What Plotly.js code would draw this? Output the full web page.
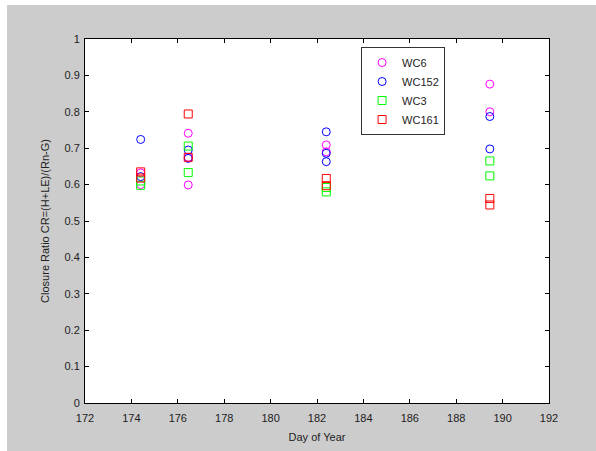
<!DOCTYPE html>
<html>
<head>
<meta charset="utf-8">
<script src="https://cdn.plot.ly/plotly-3.0.1.min.js"></script>
<style>
html,body{margin:0;padding:0;background:#ffffff;}
#chart{position:absolute;left:7px;top:5px;width:589px;height:446px;}
</style>
</head>
<body>
<div id="chart"></div>
<script>
// Data
const wc6Days   = [174.4, 174.4, 176.45, 176.45, 176.45, 182.4, 182.4, 189.45, 189.45];
const wc6Vals   = [0.632, 0.600, 0.741, 0.675, 0.599, 0.709, 0.690, 0.876, 0.800];
const wc152Days = [174.4, 174.4, 176.45, 176.45, 182.4, 182.4, 182.4, 189.45, 189.45];
const wc152Vals = [0.724, 0.622, 0.695, 0.672, 0.745, 0.686, 0.663, 0.787, 0.698];
const wc3Days   = [174.4, 174.4, 176.45, 176.45, 182.4, 182.4, 189.45, 189.45];
const wc3Vals   = [0.610, 0.598, 0.706, 0.633, 0.592, 0.580, 0.665, 0.624];
const wc161Days = [174.4, 174.4, 176.45, 176.45, 182.4, 182.4, 189.45, 189.45];
const wc161Vals = [0.635, 0.618, 0.794, 0.675, 0.617, 0.597, 0.562, 0.544];

const seriesNames = ['WC6', 'WC152', 'WC3', 'WC161'];
const xTicks = [172,174,176,178,180,182,184,186,188,190,192];
const yTicks = [0,0.1,0.2,0.3,0.4,0.5,0.6,0.7,0.8,0.9,1];

function tr(name, x, y, sym, col) {
  return {
    type: 'scatter', mode: 'markers', name: name, x: x, y: y,
    marker: {symbol: sym, size: 8, color: col, line: {color: col, width: 1}},
    cliponaxis: false
  };
}

const data = [
  tr(seriesNames[0], wc6Days, wc6Vals, 'circle-open', '#ff00ff'),
  tr(seriesNames[1], wc152Days, wc152Vals, 'circle-open', '#0000ff'),
  tr(seriesNames[2], wc3Days, wc3Vals, 'square-open', '#00ff00'),
  tr(seriesNames[3], wc161Days, wc161Vals, 'square-open', '#ff0000')
];

const fontFam = 'Liberation Sans, Arial, sans-serif';
const axisCommon = {
  showgrid: false, zeroline: false, showline: true, linecolor: '#000000', linewidth: 1,
  mirror: 'ticks', ticks: 'inside', ticklen: 4, tickcolor: '#000000',
  tickfont: {family: fontFam, size: 11, color: '#222222'}
};

const layout = {
  width: 589, height: 446,
  paper_bgcolor: '#cccccc', plot_bgcolor: '#ffffff',
  margin: {l: 78, r: 47, t: 34, b: 48},
  showlegend: true,
  legend: {
    x: 0.595, y: 0.978, xanchor: 'left', yanchor: 'top',
    bgcolor: '#ffffff', bordercolor: '#333333', borderwidth: 1,
    font: {family: fontFam, size: 11, color: '#222222'},
    tracegroupgap: 0, itemsizing: 'trace', itemwidth: 30
  },
  xaxis: Object.assign({}, axisCommon, {
    range: [172, 192], tickvals: xTicks, ticktext: xTicks.map(String),
    ticklabelstandoff: 5,
    title: {text: 'Day of Year', standoff: 10, font: {family: fontFam, size: 11, color: '#222222'}},
    automargin: false
  }),
  yaxis: Object.assign({}, axisCommon, {
    range: [0, 1], tickvals: yTicks, ticktext: yTicks.map(String),
    ticklabelstandoff: 2,
    title: {text: 'Closure Ratio CR=(H+LE)/(Rn-G)', standoff: 12, font: {family: fontFam, size: 11, color: '#222222'}},
    automargin: false
  })
};

Plotly.newPlot('chart', data, layout, {displayModeBar: false, staticPlot: true});
</script>
</body>
</html>
